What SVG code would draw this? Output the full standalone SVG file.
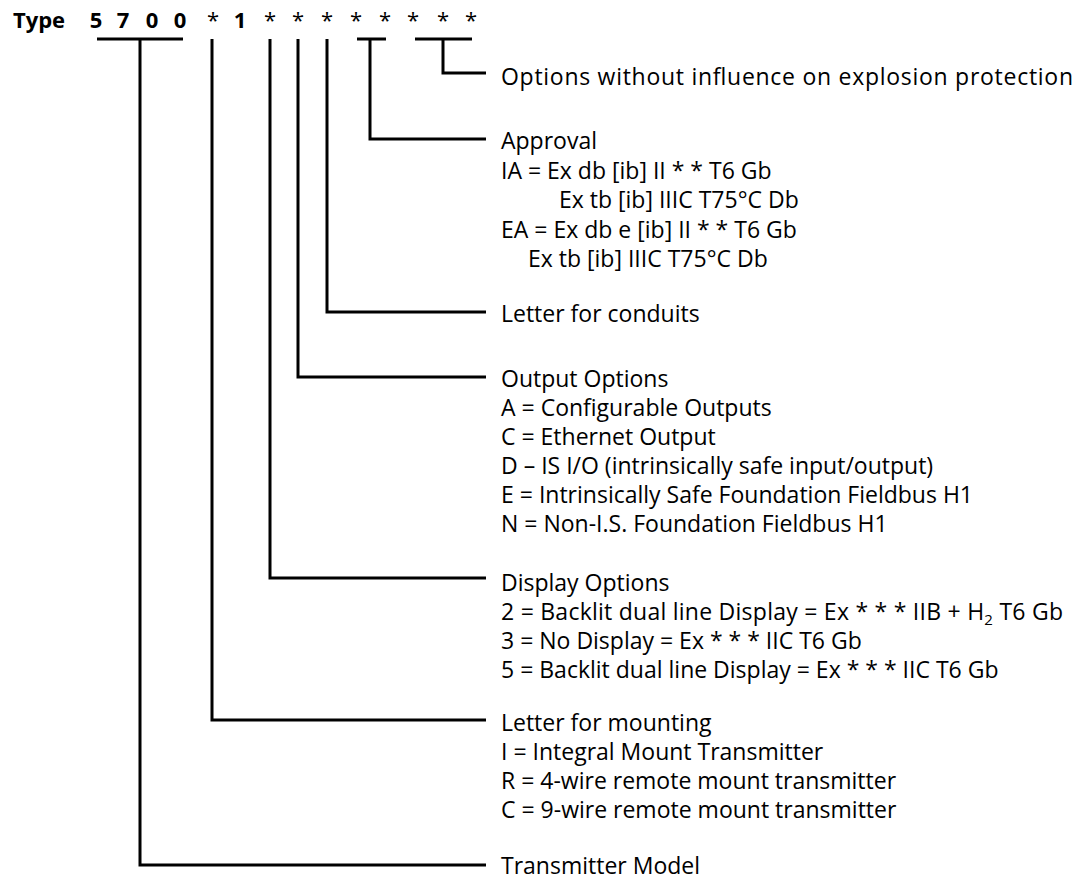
<svg xmlns="http://www.w3.org/2000/svg" width="1088" height="882" viewBox="0 0 1088 882">
<style>
.t{font-family:"Open Sans","Liberation Sans",sans-serif;font-size:23px;fill:#000}
.h{font-family:"Open Sans","Liberation Sans",sans-serif;font-size:22px;font-weight:bold;fill:#000;text-anchor:middle}
.s{font-family:"Open Sans","Liberation Sans",sans-serif;font-size:22px;fill:#000;text-anchor:middle}
.c{fill:none;stroke:#000;stroke-width:3;stroke-linecap:butt;stroke-linejoin:miter}
</style>
<rect width="1088" height="882" fill="#fff"/>
<g id="header">
<text class="h" x="39" y="28">Type</text>
<text class="h" x="96" y="28">5</text>
<text class="h" x="123" y="28">7</text>
<text class="h" x="152" y="28">0</text>
<text class="h" x="180" y="28">0</text>
<text class="s" x="213" y="28">*</text>
<text class="h" x="240" y="28">1</text>
<text class="s" x="270" y="28">*</text>
<text class="s" x="298" y="28">*</text>
<text class="s" x="327" y="28">*</text>
<text class="s" x="356" y="28">*</text>
<text class="s" x="385" y="28">*</text>
<text class="s" x="413" y="28">*</text>
<text class="s" x="443" y="28">*</text>
<text class="s" x="471" y="28">*</text>
</g>
<g id="connectors">
<path class="c" d="M97 39H183M140 39V865H486"/>
<path class="c" d="M212 39V720H486"/>
<path class="c" d="M270 39V578H486"/>
<path class="c" d="M298 39V377H486"/>
<path class="c" d="M327 39V312H486"/>
<path class="c" d="M357 39H386M370 39V139H486"/>
<path class="c" d="M415 39H472M443 39V73H486"/>
</g>
<g id="options">
<text class="t" x="501" y="85" textLength="572">Options without influence on explosion protection</text>
</g>
<g id="approval">
<text class="t" x="501" y="149">Approval</text>
<text class="t" x="501" y="179">IA = Ex db [ib] II * * T6 Gb</text>
<text class="t" x="559" y="208">Ex tb [ib] IIIC T75°C Db</text>
<text class="t" x="501" y="238">EA = Ex db e [ib] II * * T6 Gb</text>
<text class="t" x="528" y="267">Ex tb [ib] IIIC T75°C Db</text>
</g>
<g id="conduits">
<text class="t" x="501" y="322">Letter for conduits</text>
</g>
<g id="output">
<text class="t" x="501" y="387">Output Options</text>
<text class="t" x="501" y="416">A = Configurable Outputs</text>
<text class="t" x="501" y="445">C = Ethernet Output</text>
<text class="t" x="501" y="474">D – IS I/O (intrinsically safe input/output)</text>
<text class="t" x="501" y="503">E = Intrinsically Safe Foundation Fieldbus H1</text>
<text class="t" x="501" y="532">N = Non-I.S. Foundation Fieldbus H1</text>
</g>
<g id="display">
<text class="t" x="501" y="591">Display Options</text>
<text class="t" x="501" y="620" textLength="562">2 = Backlit dual line Display = Ex * * * IIB + H<tspan font-size="15" dy="5">2</tspan><tspan dy="-5"> T6 Gb</tspan></text>
<text class="t" x="501" y="649">3 = No Display = Ex * * * IIC T6 Gb</text>
<text class="t" x="501" y="678">5 = Backlit dual line Display = Ex * * * IIC T6 Gb</text>
</g>
<g id="mounting">
<text class="t" x="501" y="731">Letter for mounting</text>
<text class="t" x="501" y="760">I = Integral Mount Transmitter</text>
<text class="t" x="501" y="789">R = 4-wire remote mount transmitter</text>
<text class="t" x="501" y="818">C = 9-wire remote mount transmitter</text>
</g>
<g id="model">
<text class="t" x="501" y="874">Transmitter Model</text>
</g>
</svg>
